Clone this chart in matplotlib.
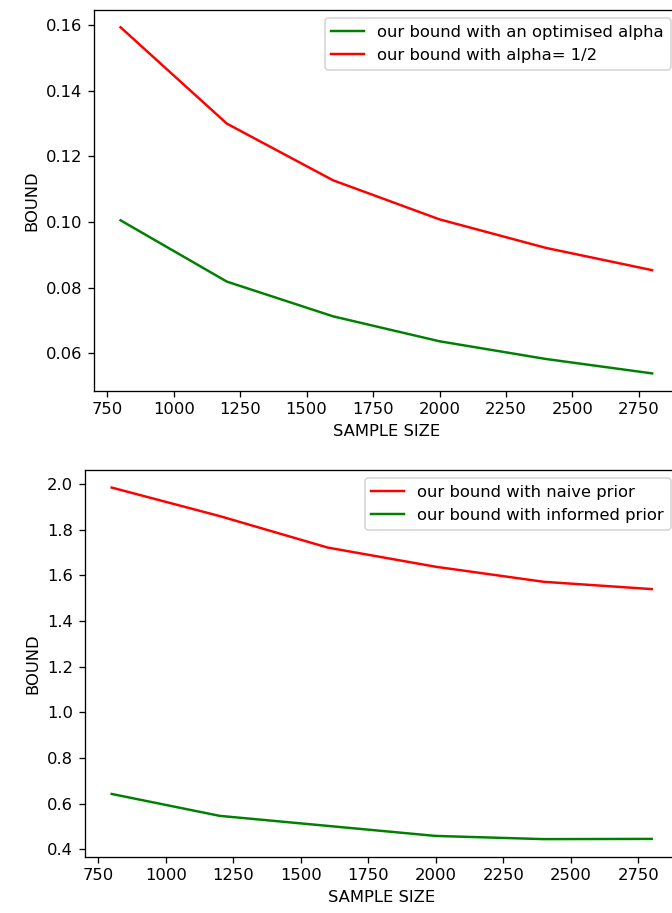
import numpy as np
import matplotlib
matplotlib.use("Agg")
import matplotlib.pyplot as plt

# sample sizes shared by both panels
sample_size = [800, 1200, 1600, 2000, 2400, 2800]

# top panel: alpha comparison
bound_opt_alpha = [0.1005, 0.0818, 0.0712, 0.0636, 0.0582, 0.0538]
bound_half_alpha = [0.1594, 0.1300, 0.1127, 0.1008, 0.0921, 0.0853]

# bottom panel: prior comparison
bound_naive = [1.985, 1.860, 1.722, 1.638, 1.572, 1.540]
bound_informed = [0.642, 0.546, 0.502, 0.458, 0.444, 0.445]

dpi = 118
fig = plt.figure(figsize=(672 / dpi, 913 / dpi), dpi=dpi)

# axes run a little past the right edge, like the cropped original
ax1 = fig.add_axes([94 / 672, 1 - 390.7 / 913, (678.7 - 94) / 672, (390.7 - 10) / 913])
ax1.plot(sample_size, bound_opt_alpha, color="green", label="our bound with an optimised alpha")
ax1.plot(sample_size, bound_half_alpha, color="red", label="our bound with alpha= 1/2")
ax1.set_xticks(np.arange(750, 3000, 250))
ax1.set_xlabel("SAMPLE SIZE")
ax1.set_ylabel("BOUND")
ax1.legend(loc="upper right")

ax2 = fig.add_axes([84.7 / 672, 1 - 856.7 / 913, (678.7 - 84.7) / 672, (856.7 - 470) / 913])
ax2.plot(sample_size, bound_naive, color="red", label="our bound with naive prior")
ax2.plot(sample_size, bound_informed, color="green", label="our bound with informed prior")
ax2.set_xticks(np.arange(750, 3000, 250))
ax2.set_xlabel("SAMPLE SIZE")
ax2.set_ylabel("BOUND")
ax2.legend(loc="upper right")

fig.savefig("out.png", dpi=dpi)
